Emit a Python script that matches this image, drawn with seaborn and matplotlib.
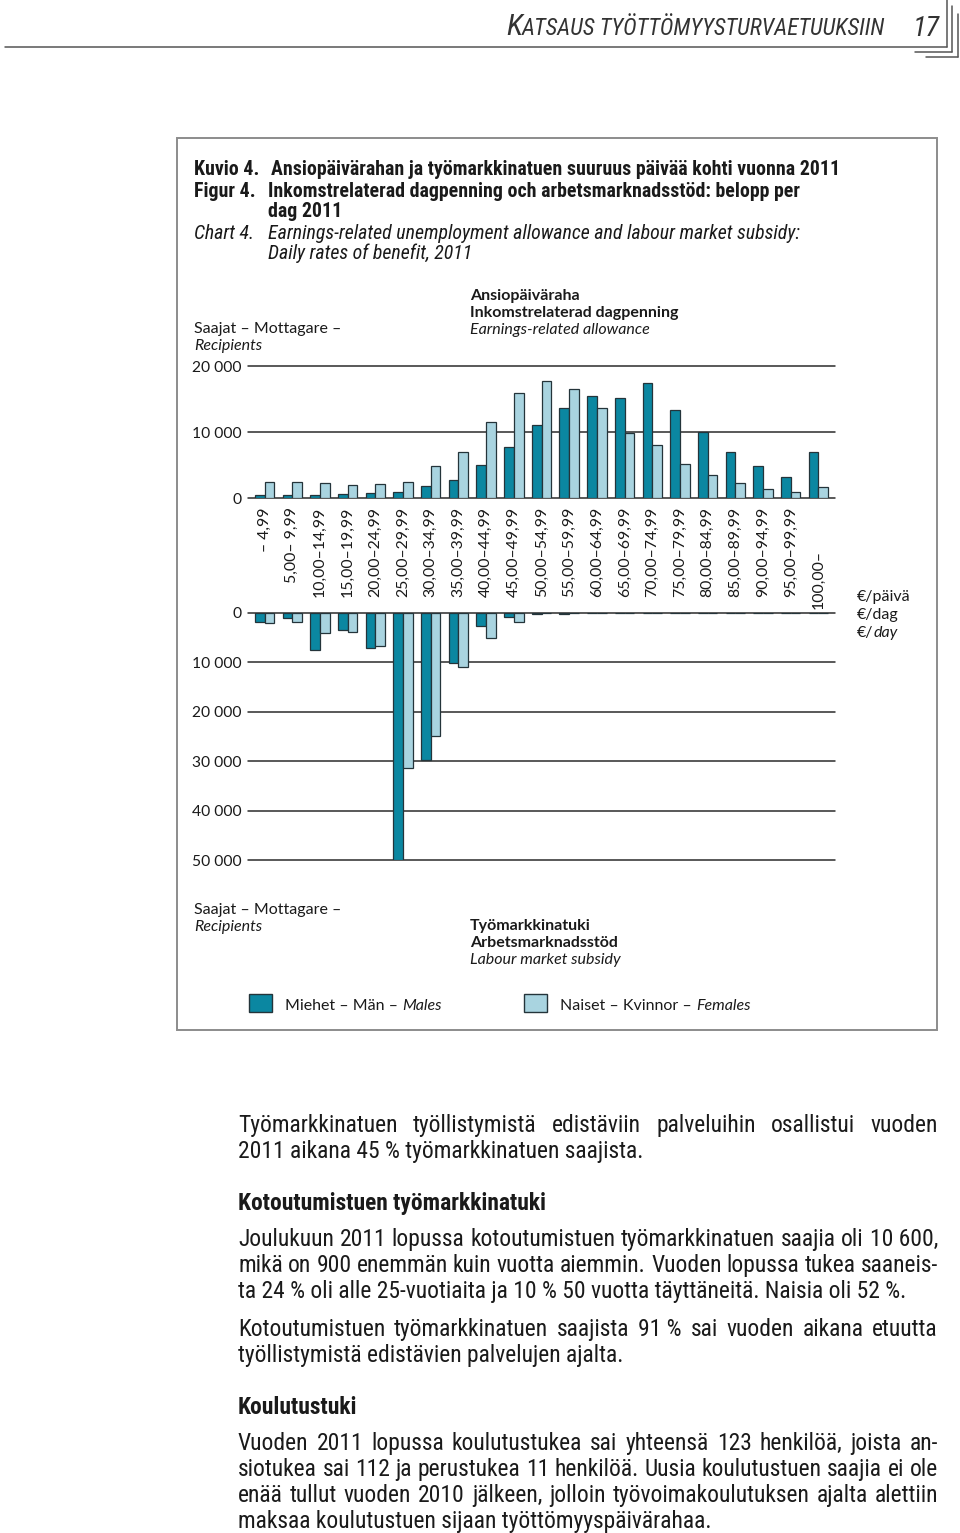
import matplotlib
matplotlib.use("Agg")
import matplotlib.pyplot as plt
from matplotlib import font_manager
from matplotlib.patches import Rectangle
from matplotlib.lines import Line2D
from matplotlib.transforms import blended_transform_factory
import seaborn as sns
import pandas as pd

# ---------------- data ----------------
ranges = ["– 4,99", "5,00– 9,99", "10,00–14,99", "15,00–19,99", "20,00–24,99",
          "25,00–29,99", "30,00–34,99", "35,00–39,99", "40,00–44,99", "45,00–49,99",
          "50,00–54,99", "55,00–59,99", "60,00–64,99", "65,00–69,99", "70,00–74,99",
          "75,00–79,99", "80,00–84,99", "85,00–89,99", "90,00–94,99", "95,00–99,99",
          "100,00–"]
earn_males = [400, 500, 500, 600, 700, 900, 1800, 2800, 5000, 7700, 11000,
              13700, 15500, 15100, 17500, 13400, 10000, 6900, 4800, 3200, 7000]
earn_females = [2500, 2500, 2300, 2000, 2100, 2500, 4900, 6900, 11500, 15900, 17800,
                16500, 13700, 9900, 8000, 5200, 3500, 2200, 1400, 900, 1600]
sub_males = [1900, 1100, 7500, 3500, 7100, 50000, 29800, 10200, 2700, 900,
             150, 120, 100, 80, 60, 50, 40, 30, 30, 20, 20]
sub_females = [2100, 1900, 4100, 3900, 6700, 31300, 24800, 10900, 5000, 1900,
               100, 80, 60, 50, 40, 30, 20, 20, 10, 10, 10]
sexes = ["Miehet", "Naiset"]
upper_ticks = [0, 10000, 20000]
lower_ticks = [0, 10000, 20000, 30000, 40000, 50000]

DARK = "#0b87a1"
LIGHT = "#a9d4e0"
EDGE = "#24343a"
TXT = "#1a1a1a"

# ---------------- fonts ----------------
sns.set_theme(style="white")
avail = {f.name for f in font_manager.fontManager.ttflist}
def pick(cands):
    for c in cands:
        if c in avail:
            return c
    return "DejaVu Sans"
NARROW = pick(["Liberation Sans Narrow", "Roboto Condensed", "Roboto"])
SANS = pick(["Lato", "Open Sans", "Noto Sans"])
plt.rcParams["font.family"] = [SANS, "DejaVu Sans"]

W, H = 960, 1533
fig = plt.figure(figsize=(W / 100, H / 100), dpi=100)
fig.patch.set_facecolor("white")
R = fig.canvas.get_renderer()

def fx(x):
    return x / W

def fy(y):
    return 1 - y / H

def tw(s, **props):
    t = fig.text(0, 0, s + "|", **props)
    w1 = t.get_window_extent(R).width
    t.set_text("|")
    w2 = t.get_window_extent(R).width
    t.remove()
    return w1 - w2

def fit(s, target, **props):
    return 10 * target / tw(s, fontsize=10, **props)

def runs(x, y, parts, base):
    for s, extra in parts:
        p = dict(base)
        p.update(extra)
        fig.text(fx(x), fy(y), s, ha="left", va="baseline", **p)
        x += tw(s, **p)

def justify(line, x0, x1, y, props):
    words = line.split(" ")
    ws = [tw(w, **props) for w in words]
    gap = (x1 - x0 - sum(ws)) / (len(words) - 1)
    x = x0
    for w, wd in zip(words, ws):
        fig.text(fx(x), fy(y), w, ha="left", va="baseline", **props)
        x += wd + gap

# font sizes fitted to reference widths
s_lab = fit("Saajat – Mottagare –", 147, family=SANS)
s_tick = fit("10 000", 49, family=SANS)
s_xt = fit("10,00–14,99", 90, family=SANS)
s_title = fit("Ansiopäivärahan ja työmarkkinatuen suuruus päivää kohti vuonna 2011", 568,
              family=NARROW, weight="bold")
s_body = min(fit("2011 aikana 45\u00a0% työmarkkinatuen saajista.", 415, family=NARROW),
             fit("Joulukuun 2011 lopussa kotoutumistuen työmarkkinatuen saajia oli 10\u00a0600,",
                 696, family=NARROW),
             fit("ta 24\u00a0% oli alle 25-vuotiaita ja 10\u00a0% 50 vuotta täyttäneitä. Naisia oli 52\u00a0%.",
                 684, family=NARROW))
s_head = fit("Kotoutumistuen työmarkkinatuki", 308, family=NARROW, weight="bold")

# ---------------- header ----------------
hs_small = fit("ATSAUS TYÖTTÖMYYSTURVAETUUKSIIN", 364, family=NARROW, style="italic")
hs_big = hs_small * 1.3
hp = dict(family=NARROW, style="italic", color="#333333")
wk = tw("K", fontsize=hs_big, **hp)
wr = tw("ATSAUS TYÖTTÖMYYSTURVAETUUKSIIN", fontsize=hs_small, **hp)
x0 = 885 - wk - wr
fig.text(fx(x0), fy(35), "K", fontsize=hs_big, ha="left", va="baseline", **hp)
fig.text(fx(x0 + wk), fy(35), "ATSAUS TYÖTTÖMYYSTURVAETUUKSIIN", fontsize=hs_small,
         ha="left", va="baseline", **hp)
s_pg = fit("17", 27, family=NARROW, style="italic")
fig.text(fx(940), fy(36), "17", fontsize=s_pg, ha="right", va="baseline", **hp)

for (xa, ya, xb, yb) in [(5, 47, 947, 47), (947, 0, 947, 47),
                         (915, 52, 952, 52), (952, 6, 952, 52),
                         (926, 57, 958, 57), (958, 14, 958, 57)]:
    fig.add_artist(Line2D([fx(xa), fx(xb)], [fy(ya), fy(yb)], color="#555555", lw=1.1))

# ---------------- chart box ----------------
fig.add_artist(Rectangle((fx(177), fy(1030)), (937 - 177) / W, (1030 - 138) / H,
                         fill=False, edgecolor="#8c8c8c", lw=1.4))

tb = dict(family=NARROW, fontsize=s_title, color=TXT, weight="bold")
ti = dict(family=NARROW, fontsize=s_title, color=TXT, style="italic")
fig.text(fx(194), fy(175), "Kuvio 4.", ha="left", va="baseline", **tb)
fig.text(fx(271), fy(175), "Ansiopäivärahan ja työmarkkinatuen suuruus päivää kohti vuonna 2011",
         ha="left", va="baseline", **tb)
fig.text(fx(194), fy(197), "Figur 4.", ha="left", va="baseline", **tb)
fig.text(fx(268), fy(197), "Inkomstrelaterad dagpenning och arbetsmarknadsstöd: belopp per",
         ha="left", va="baseline", **tb)
fig.text(fx(268), fy(217), "dag 2011", ha="left", va="baseline", **tb)
fig.text(fx(194), fy(239), "Chart 4.", ha="left", va="baseline", **ti)
fig.text(fx(268), fy(239), "Earnings-related unemployment allowance and labour market subsidy:",
         ha="left", va="baseline", **ti)
fig.text(fx(268), fy(259), "Daily rates of benefit, 2011", ha="left", va="baseline", **ti)

lp = dict(family=SANS, fontsize=s_lab, color=TXT)
fig.text(fx(194), fy(333), "Saajat – Mottagare –", ha="left", va="baseline", **lp)
fig.text(fx(194), fy(350), "Recipients", ha="left", va="baseline", style="italic", **lp)
fig.text(fx(470), fy(300), "Ansiopäiväraha", ha="left", va="baseline", weight="bold", **lp)
fig.text(fx(470), fy(317), "Inkomstrelaterad dagpenning", ha="left", va="baseline", weight="bold", **lp)
fig.text(fx(470), fy(334), "Earnings-related allowance", ha="left", va="baseline", style="italic", **lp)

fig.text(fx(194), fy(914), "Saajat – Mottagare –", ha="left", va="baseline", **lp)
fig.text(fx(194), fy(931), "Recipients", ha="left", va="baseline", style="italic", **lp)
fig.text(fx(470), fy(930), "Työmarkkinatuki", ha="left", va="baseline", weight="bold", **lp)
fig.text(fx(470), fy(947), "Arbetsmarknadsstöd", ha="left", va="baseline", weight="bold", **lp)
fig.text(fx(470), fy(964), "Labour market subsidy", ha="left", va="baseline", style="italic", **lp)

runs(857, 601, [("€/päivä", {})], lp)
runs(857, 619, [("€/dag", {})], lp)
runs(857, 637, [("€/", {}), ("day", {"style": "italic"})], lp)

# legend
for xl, col, parts in [(249, DARK, [("Miehet – Män – ", {}), ("Males", {"style": "italic"})]),
                       (524, LIGHT, [("Naiset – Kvinnor – ", {}), ("Females", {"style": "italic"})])]:
    fig.add_artist(Rectangle((fx(xl), fy(1012)), 23 / W, 18 / H, facecolor=col,
                             edgecolor=EDGE, lw=1.0))
    runs(xl + 36, 1010, parts, lp)

# ---------------- bar charts ----------------
def make_df(m, f):
    return pd.DataFrame({"range": ranges * 2,
                         "sex": [sexes[0]] * len(ranges) + [sexes[1]] * len(ranges),
                         "value": list(m) + list(f)})

def style_axes(ax, ticks, ylim):
    ax.set_xlim(-0.6, len(ranges) - 0.4)
    ax.set_ylim(*ylim)
    ax.set_xlabel("")
    ax.set_ylabel("")
    ax.set_facecolor("none")
    sns.despine(ax=ax, left=True, bottom=True)
    ax.set_yticks(ticks)
    ax.set_yticklabels(["0" if t == 0 else f"{t:,}".replace(",", " ") for t in ticks])
    ax.tick_params(axis="y", length=0, pad=4.5, labelsize=s_tick, labelcolor=TXT)
    for lab in ax.get_yticklabels():
        lab.set_family(SANS)
    ax.tick_params(axis="x", length=0, labelbottom=False)
    ax.grid(False)
    for t in ticks:
        ax.axhline(t, color="#2b2b2b", lw=1.1, zorder=0.5, clip_on=False)

ax1 = fig.add_axes([fx(248), fy(498), (835 - 248) / W, (498 - 366) / H])
sns.barplot(data=make_df(earn_males, earn_females), x="range", y="value", hue="sex",
            order=ranges, hue_order=sexes, palette=[DARK, LIGHT], saturation=1,
            width=0.7, edgecolor=EDGE, linewidth=0.9, legend=False, ax=ax1, zorder=2)
style_axes(ax1, upper_ticks, (0, 20000))

ax2 = fig.add_axes([fx(248), fy(860), (835 - 248) / W, (860 - 613) / H])
sns.barplot(data=make_df(sub_males, sub_females), x="range", y="value", hue="sex",
            order=ranges, hue_order=sexes, palette=[DARK, LIGHT], saturation=1,
            width=0.7, edgecolor=EDGE, linewidth=0.9, legend=False, ax=ax2, zorder=2)
style_axes(ax2, lower_ticks, (50000, 0))

# category labels between the two charts
trans = blended_transform_factory(ax1.transData, fig.transFigure)
for xpos, lab in zip(ax1.get_xticks(), ranges):
    if lab.endswith("–"):
        ax1.text(xpos, fy(609), lab, rotation=90, ha="center", va="bottom",
                 transform=trans, fontsize=s_xt, color=TXT, family=SANS, clip_on=False)
    else:
        ax1.text(xpos, fy(507), lab, rotation=90, ha="center", va="top",
                 transform=trans, fontsize=s_xt, color=TXT, family=SANS, clip_on=False)

# ---------------- body text ----------------
bp = dict(family=NARROW, fontsize=s_body, color=TXT)
hp2 = dict(family=NARROW, fontsize=s_head, color=TXT, weight="bold")
XL, XR = 238, 938
body = [
    ("j", "Työmarkkinatuen työllistymistä edistäviin palveluihin osallistui vuoden", 1132),
    ("l", "2011 aikana 45\u00a0% työmarkkinatuen saajista.", 1158),
    ("h", "Kotoutumistuen työmarkkinatuki", 1210),
    ("j", "Joulukuun 2011 lopussa kotoutumistuen työmarkkinatuen saajia oli 10\u00a0600,", 1246),
    ("j", "mikä on 900 enemmän kuin vuotta aiemmin. Vuoden lopussa tukea saaneis-", 1272),
    ("l", "ta 24\u00a0% oli alle 25-vuotiaita ja 10\u00a0% 50 vuotta täyttäneitä. Naisia oli 52\u00a0%.", 1298),
    ("j", "Kotoutumistuen työmarkkinatuen saajista 91\u00a0% sai vuoden aikana etuutta", 1336),
    ("l", "työllistymistä edistävien palvelujen ajalta.", 1362),
    ("h", "Koulutustuki", 1414),
    ("j", "Vuoden 2011 lopussa koulutustukea sai yhteensä 123 henkilöä, joista an-", 1450),
    ("j", "siotukea sai 112 ja perustukea 11 henkilöä. Uusia koulutustuen saajia ei ole", 1476),
    ("j", "enää tullut vuoden 2010 jälkeen, jolloin työvoimakoulutuksen ajalta alettiin", 1502),
    ("l", "maksaa koulutustuen sijaan työttömyyspäivärahaa.", 1528),
]
for kind, line, yb in body:
    if kind == "j":
        justify(line, XL, XR, yb, bp)
    elif kind == "h":
        fig.text(fx(XL), fy(yb), line, ha="left", va="baseline", **hp2)
    else:
        fig.text(fx(XL), fy(yb), line, ha="left", va="baseline", **bp)

fig.savefig("out.png", dpi=100, facecolor="white")
